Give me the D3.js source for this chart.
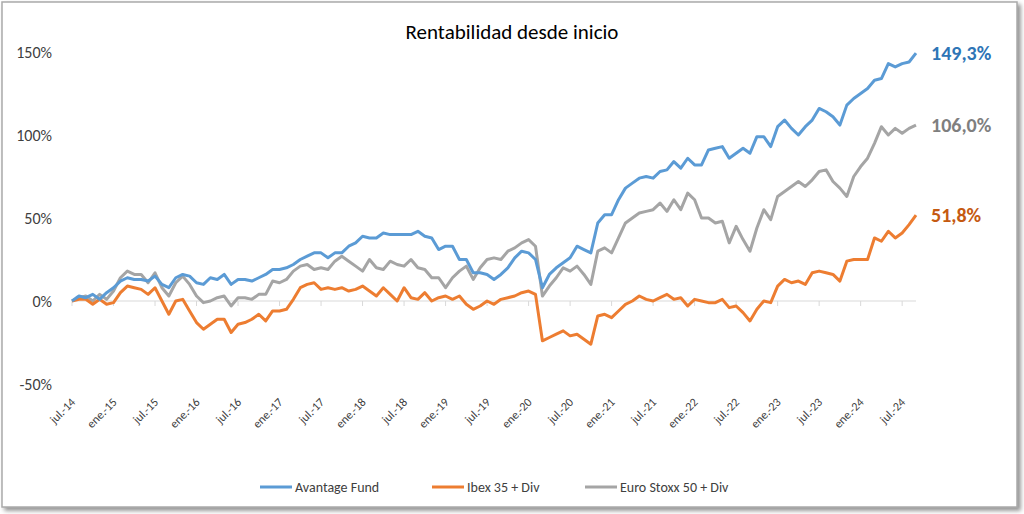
<!DOCTYPE html>
<html><head><meta charset="utf-8">
<script src="https://cdn.jsdelivr.net/npm/d3@7"></script>
<style>body{margin:0;background:#fff;font-family:Calibri,Carlito,"Open Sans",sans-serif}</style>
</head><body>
<script>
var fund = [0,3,2,4,1,5, 8,12,14,13,13,12, 15,10,8,14,16,15, 11,10,14,13,16,10,
  13,13,12,14,16,19, 19,20,22,25,27,29, 29,26,29,29,33,35, 39,38,38,41,40,40,
  40,40,42,39,38,31, 33,33,25,25,17,17, 16,13,16,20,26,30, 29,25,8,16,20,23,
  26,33,31,29,47,52, 52,61,68,71,74,75, 74,78,79,84,80,86, 82,82,91,92,93,86,
  89,92,89,99,99,93, 105,109,104,100,105,109, 116,114,111,106,118,122,
  125,128,133,134,143,141, 143,144,149.3];
var ibex = [0,1,1,-2,1,-2, -1,5,9,8,7,4, 8,0,-8,0,1,-6, -13,-17,-14,-11,-11,-19,
  -14,-13,-11,-8,-12,-6, -6,-5,1,8,10,11, 7,8,7,8,6,7, 9,6,3,8,4,0,
  8,2,1,5,0,2, 3,1,3,-2,-5,-3, 0,-2,1,2,3,5, 6,4,-24,-22,-20,-18,
  -21,-20,-23,-26,-9,-8, -10,-6,-2,0,3,1, 0,2,4,1,2,-3, 1,0,-1,-1,1,-4,
  -3,-7,-12,-5,0,-1, 9,13,11,12,10,17, 18,17,16,12,24,25,
  25,25,38,36,42,38, 41,46,51.8];
var stoxx = [0,2,3,0,4,1, 6,14,18,16,16,11, 17,8,3,11,15,10, 3,-1,0,2,3,-3,
  2,2,1,4,4,12, 11,13,18,21,22,19, 20,19,24,27,24,21, 18,25,20,19,24,22,
  21,25,20,19,14,14, 8,14,18,21,13,20, 25,26,25,30,32,35, 37,33,3,9,14,20,
  18,21,16,10,30,32, 29,38,47,50,53,54, 55,59,54,61,55,65, 61,50,50,47,48,35,
  45,37,30,44,55,49, 63,66,69,72,69,73, 78,79,72,68,63,75,
  81,86,95,105,100,104, 101,104,106];
var tickLabels = ["jul.-14","ene.-15","jul.-15","ene.-16","jul.-16","ene.-17","jul.-17","ene.-18",
  "jul.-18","ene.-19","jul.-19","ene.-20","jul.-20","ene.-21","jul.-21","ene.-22","jul.-22",
  "ene.-23","jul.-23","ene.-24","jul.-24"];
var yTicks = [-50, 0, 50, 100, 150];
var seriesNames = ["Avantage Fund", "Ibex 35 + Div", "Euro Stoxx 50 + Div"];
var seriesColors = ["#5B9BD5", "#ED7D31", "#A5A5A5"];
var labelColors = ["#2E75B6", "#C55A11", "#7F7F7F"];

var W = 1024, H = 514;
var svg = d3.select("body").append("svg").attr("width", W).attr("height", H);
var defs = svg.append("defs");
var f = defs.append("filter").attr("id", "sh").attr("x", "-5%").attr("y", "-5%").attr("width", "110%").attr("height", "110%");
f.append("feDropShadow").attr("dx", 3).attr("dy", 3).attr("stdDeviation", 2).attr("flood-color", "#777").attr("flood-opacity", 0.8);
svg.append("rect").attr("x", 2).attr("y", 2).attr("width", W - 9).attr("height", H - 9)
  .attr("fill", "#fff").attr("stroke", "#aaa").attr("stroke-width", 1.5).attr("filter", "url(#sh)");

var x = d3.scaleLinear().domain([0, fund.length - 1]).range([72, 916]);
var y = d3.scaleLinear().domain([-50, 150]).range([384, 52]);

svg.append("text").attr("x", 512).attr("y", 39).attr("text-anchor", "middle")
  .attr("font-size", 21).attr("fill", "#000").text("Rentabilidad desde inicio");

svg.append("g").selectAll("text").data(yTicks).enter().append("text")
  .attr("x", 52).attr("y", function(d) { return y(d) + 6; }).attr("text-anchor", "end")
  .attr("font-size", 16).attr("fill", "#404040").text(function(d) { return d + "%"; });

svg.append("line").attr("x1", 72).attr("x2", 916).attr("y1", y(0)).attr("y2", y(0))
  .attr("stroke", "#d9d9d9").attr("stroke-width", 1);

var ticks = svg.append("g").selectAll("g").data(tickLabels).enter().append("g")
  .attr("transform", function(d, i) { return "translate(" + x(i * 6) + ",0)"; });
ticks.append("line").attr("y1", y(0)).attr("y2", y(0) + 5).attr("stroke", "#d9d9d9");
ticks.append("text").attr("transform", "translate(4,403) rotate(-45)")
  .attr("text-anchor", "end").attr("font-size", 12).attr("fill", "#404040").text(function(d) { return d; });

var line = d3.line().x(function(d, i) { return x(i); }).y(function(d) { return y(d); });
[stoxx, ibex, fund].forEach(function(s, k) {
  var idx = [2, 1, 0][k];
  svg.append("path").datum(s).attr("d", line).attr("fill", "none")
    .attr("stroke", seriesColors[idx]).attr("stroke-width", 3).attr("stroke-linejoin", "round");
});

[fund, ibex, stoxx].forEach(function(s, k) {
  var v = s[s.length - 1];
  svg.append("text").attr("x", 931).attr("y", y(v) + 7).attr("font-size", 20).attr("font-weight", "bold")
    .attr("fill", labelColors[k]).text(v.toFixed(1).replace(".", ",") + "%");
});

var legX = [260, 432, 585];
var leg = svg.append("g").selectAll("g").data(seriesNames).enter().append("g")
  .attr("transform", function(d, i) { return "translate(" + legX[i] + ",487)"; });
leg.append("line").attr("x1", 0).attr("x2", 32).attr("stroke", function(d, i) { return seriesColors[i]; }).attr("stroke-width", 3);
leg.append("text").attr("x", 35).attr("y", 5).attr("font-size", 14).attr("fill", "#404040").text(function(d) { return d; });
</script>
</body></html>
